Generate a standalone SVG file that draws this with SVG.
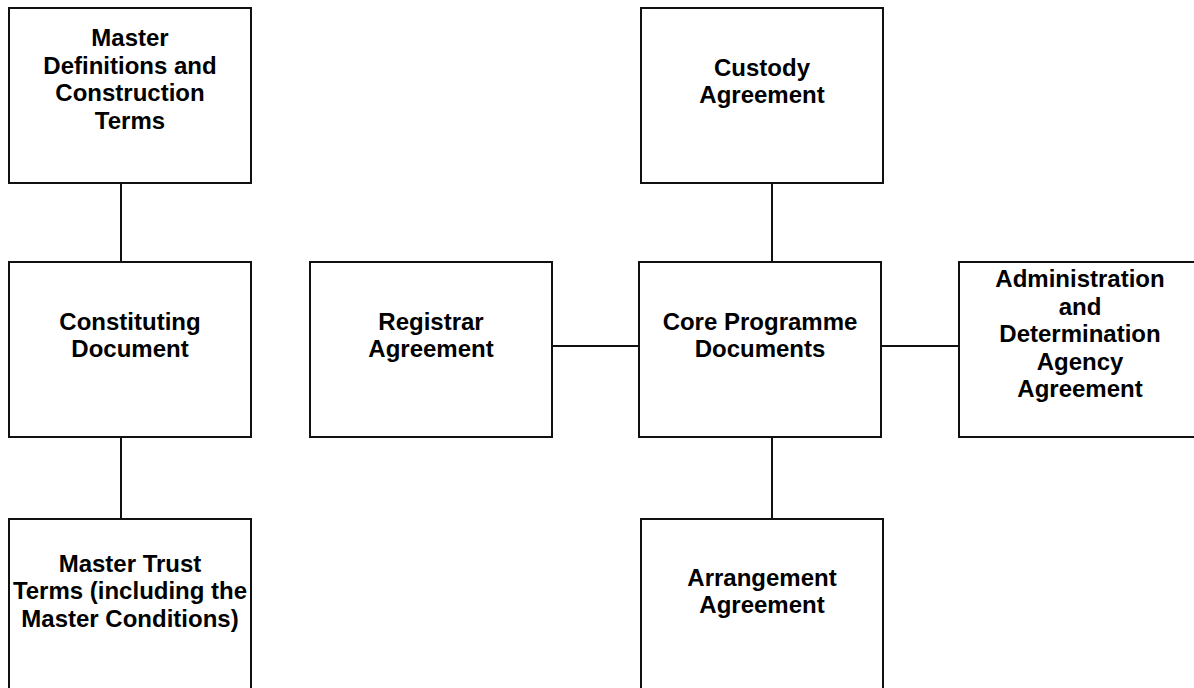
<svg xmlns="http://www.w3.org/2000/svg" width="1194" height="688" viewBox="0 0 1194 688">
<style>
.box{fill:#fff;stroke:#111;stroke-width:2}
.lbl{font-family:"Liberation Sans",Arial,sans-serif;font-weight:bold;font-size:24px;fill:#000;text-anchor:middle}
.con{stroke:#111;stroke-width:2;fill:none}
</style>
<rect width="1194" height="688" fill="#fff"/>
<g id="connectors">
<line class="con" x1="121" y1="183" x2="121" y2="262"/>
<line class="con" x1="121" y1="437" x2="121" y2="519"/>
<line class="con" x1="552" y1="346" x2="639" y2="346"/>
<line class="con" x1="881" y1="346" x2="959" y2="346"/>
<line class="con" x1="772" y1="183" x2="772" y2="262"/>
<line class="con" x1="772" y1="437" x2="772" y2="519"/>
</g>
<g id="master-definitions">
<rect class="box" x="9" y="8" width="242" height="175"/>
<text class="lbl" x="130" y="46">Master</text>
<text class="lbl" x="130" y="73.5">Definitions and</text>
<text class="lbl" x="130" y="101">Construction</text>
<text class="lbl" x="130" y="128.5">Terms</text>
</g>
<g id="constituting-document">
<rect class="box" x="9" y="262" width="242" height="175"/>
<text class="lbl" x="130" y="329.5">Constituting</text>
<text class="lbl" x="130" y="357">Document</text>
</g>
<g id="master-trust-terms">
<rect class="box" x="9" y="519" width="242" height="175"/>
<text class="lbl" x="130" y="571.5">Master Trust</text>
<text class="lbl" x="130" y="599">Terms (including the</text>
<text class="lbl" x="130" y="626.5">Master Conditions)</text>
</g>
<g id="registrar-agreement">
<rect class="box" x="310" y="262" width="242" height="175"/>
<text class="lbl" x="431" y="329.5">Registrar</text>
<text class="lbl" x="431" y="357">Agreement</text>
</g>
<g id="core-programme-documents">
<rect class="box" x="639" y="262" width="242" height="175"/>
<text class="lbl" x="760" y="329.5">Core Programme</text>
<text class="lbl" x="760" y="357">Documents</text>
</g>
<g id="custody-agreement">
<rect class="box" x="641" y="8" width="242" height="175"/>
<text class="lbl" x="762" y="75.5">Custody</text>
<text class="lbl" x="762" y="103">Agreement</text>
</g>
<g id="administration-agreement">
<rect class="box" x="959" y="262" width="242" height="175"/>
<text class="lbl" x="1080" y="287">Administration</text>
<text class="lbl" x="1080" y="314.5">and</text>
<text class="lbl" x="1080" y="342">Determination</text>
<text class="lbl" x="1080" y="369.5">Agency</text>
<text class="lbl" x="1080" y="397">Agreement</text>
</g>
<g id="arrangement-agreement">
<rect class="box" x="641" y="519" width="242" height="175"/>
<text class="lbl" x="762" y="585.5">Arrangement</text>
<text class="lbl" x="762" y="613">Agreement</text>
</g>
</svg>
